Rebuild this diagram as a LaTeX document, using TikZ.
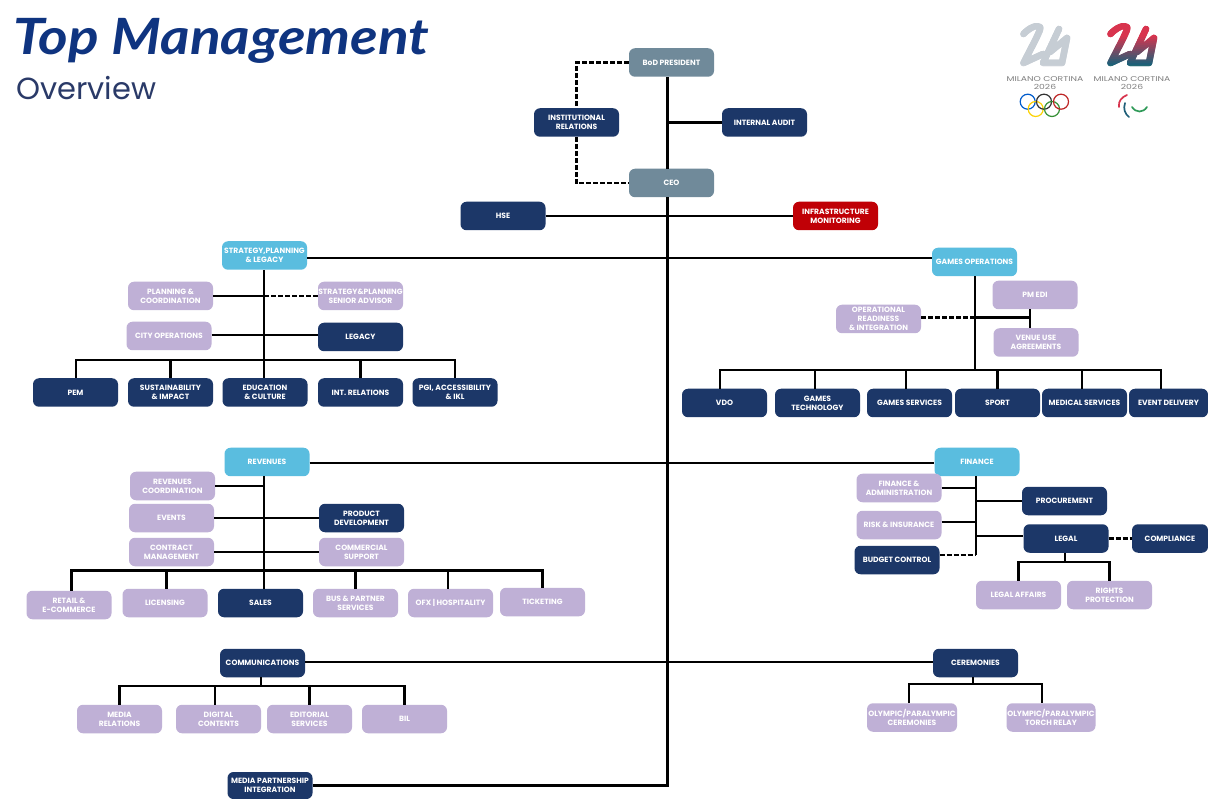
\documentclass[tikz,border=0pt]{standalone}
\usepackage{fontspec}
\setmainfont{Poppins}
\newfontfamily\titlefont{Lato}
\definecolor{navy}{HTML}{1C3768}
\definecolor{lilac}{HTML}{BFB0D6}
\definecolor{sky}{HTML}{5ABDDF}
\definecolor{slate}{HTML}{708A9A}
\definecolor{alert}{HTML}{C00006}
\definecolor{titleblue}{HTML}{0F3480}
\definecolor{subtitle}{HTML}{2A3A68}
\definecolor{logored}{HTML}{D8344E}
\definecolor{logoteal}{HTML}{1F5F78}
\definecolor{logogreen}{HTML}{2F9A58}
\definecolor{silvertop}{HTML}{C6CDD4}
\definecolor{silverlow}{HTML}{DDE1E5}
\newcommand{\logomark}[4]{%
  % #1 x origin, #2 top colour, #3 middle colour, #4 bottom colour
  \foreach \i in {0,...,28}{%
    \pgfmathsetmacro{\bandtop}{24+2*\i}
    \pgfmathsetmacro{\mixa}{min(100,max(0,(\i-6)*100/14))}
    \pgfmathsetmacro{\mixb}{max(0,(\i-20)*100/6)}
    \begin{scope}
      \clip (#1,\bandtop) rectangle (#1+60,\bandtop+2.2);
      \colorlet{bandc}{#3!\mixa!#2}
      \ifdim\mixb pt>0pt \colorlet{bandc}{#4!\mixb!#3}\fi
      \draw[bandc,line width=6.5pt,line join=round,line cap=round]
        (#1+3.5,34) .. controls (#1+9,28) and (#1+17,24) .. (#1+20,27)
        .. controls (#1+21,29) and (#1+19,33) .. (#1+3.5,63)
        -- (#1+23,54);
      \draw[bandc,line width=6.5pt,line join=round,line cap=round]
        (#1+39,29) -- (#1+23,63) -- (#1+42,63) -- (#1+47,38) -- (#1+30,52);
    \end{scope}
  }%
}
\tikzset{
  box/.style={rounded corners=6pt,minimum width=85pt,minimum height=28.5pt,inner sep=0pt,
    align=center,text=white,font=\fontsize{7.6}{9.2}\selectfont\bfseries},
  dark/.style={box,fill=navy},
  pale/.style={box,fill=lilac},
  lead/.style={box,fill=sky},
  grey/.style={box,fill=slate},
  warn/.style={box,fill=alert},
  conn/.style={line width=2.3pt,draw=black},
  heavy/.style={line width=2.8pt,draw=black},
  dash line/.style={line width=2.4pt,draw=black,dash pattern=on 5pt off 2pt},
  logotext/.style={font=\fontsize{7}{7.2}\selectfont,align=center,inner sep=0pt,xscale=1.32,transform shape},
}
\begin{document}
\begin{tikzpicture}[x=1pt,y=-1pt]
\path[use as bounding box,fill=white] (0,0) rectangle (1208,799);
\coordinate (tr) at (667.5,0);

% titles
\node[anchor=west,inner sep=0pt,text=titleblue,xscale=1.135,transform shape,font=\titlefont\fontsize{50}{50}\selectfont\bfseries\itshape] (title) at (13,41) {Top Management};
\node[anchor=west,inner sep=0pt,text=subtitle,font=\fontsize{30.5}{31}\selectfont] (sub) at (16,88) {Overview};

% top
\node[grey] (bod) at (671.5,62.5) {BoD PRESIDENT};
\node[dark] (inst) at (576.5,122.5) {INSTITUTIONAL\\RELATIONS};
\node[dark] (audit) at (764.5,122.5) {INTERNAL AUDIT};
\node[grey] (ceo) at (671.5,183) {CEO};
\node[dark] (hse) at (503,216) {HSE};
\node[warn] (infra) at (835.5,216) {INFRASTRUCTURE\\MONITORING};

% strategy
\node[lead] (strat) at (264.5,255.5) {STRATEGY,PLANNING\\\& LEGACY};
\node[pale] (plan) at (170.5,296) {PLANNING \&\\COORDINATION};
\node[pale] (city) at (169,336) {CITY OPERATIONS};
\node[pale] (senior) at (360.5,296) {STRATEGY\&PLANNING\\SENIOR ADVISOR};
\node[dark] (legacy) at (360.5,337) {LEGACY};
\node[dark] (pem) at (75.5,392.5) {PEM};
\node[dark] (sust) at (170.5,392.5) {SUSTAINABILITY\\\& IMPACT};
\node[dark] (edu) at (265,392.5) {EDUCATION\\\& CULTURE};
\node[dark] (intr) at (360.5,392.5) {INT. RELATIONS};
\node[dark] (pgi) at (455,392.5) {PGI, ACCESSIBILITY\\\& IKL};

% games
\node[lead] (games) at (974.5,262) {GAMES OPERATIONS};
\node[pale] (pmedi) at (1035,295) {PM EDI};
\node[pale] (opread) at (878.5,319) {OPERATIONAL\\READINESS\\\& INTEGRATION};
\node[pale] (venue) at (1036,342.5) {VENUE USE\\AGREEMENTS};
\node[dark] (vdo) at (724.5,403) {VDO};
\node[dark] (gtech) at (817.5,403) {GAMES\\TECHNOLOGY};
\node[dark] (gserv) at (909.5,403) {GAMES SERVICES};
\node[dark] (sport) at (997.5,403) {SPORT};
\node[dark] (med) at (1084.5,403) {MEDICAL SERVICES};
\node[dark,minimum width=79pt] (event) at (1168.5,403) {EVENT DELIVERY};

% revenues
\node[lead] (rev) at (267,462) {REVENUES};
\node[pale] (revco) at (172.5,486) {REVENUES\\COORDINATION};
\node[pale] (events) at (171.5,518) {EVENTS};
\node[pale] (contract) at (171.5,552) {CONTRACT\\MANAGEMENT};
\node[dark] (prod) at (361.5,518) {PRODUCT\\DEVELOPMENT};
\node[pale] (comm) at (361.5,552) {COMMERCIAL\\SUPPORT};
\node[pale] (retail) at (69,605) {RETAIL \&\\E-COMMERCE};
\node[pale] (lic) at (165,603) {LICENSING};
\node[dark] (sales) at (260.5,603) {SALES};
\node[pale] (bus) at (355.5,603) {BUS \& PARTNER\\SERVICES};
\node[pale] (ofx) at (450.5,603) {OFX | HOSPITALITY};
\node[pale] (tick) at (542.5,602) {TICKETING};

% finance
\node[lead] (fin) at (977,462) {FINANCE};
\node[pale] (fa) at (899,488) {FINANCE \&\\ADMINISTRATION};
\node[pale] (risk) at (899,525) {RISK \& INSURANCE};
\node[dark] (budget) at (897,560) {BUDGET CONTROL};
\node[dark] (proc) at (1064.5,501) {PROCUREMENT};
\node[dark] (legal) at (1066,538.5) {LEGAL};
\node[dark,minimum width=76pt] (comp) at (1170,538.5) {COMPLIANCE};
\node[pale] (laff) at (1018.5,595) {LEGAL AFFAIRS};
\node[pale] (rights) at (1109.5,595) {RIGHTS\\PROTECTION};

% communications
\node[dark] (cmn) at (262.5,663) {COMMUNICATIONS};
\node[pale] (media) at (119.5,719) {MEDIA\\RELATIONS};
\node[pale] (digital) at (218.5,719) {DIGITAL\\CONTENTS};
\node[pale] (edit) at (309.5,719) {EDITORIAL\\SERVICES};
\node[pale] (bil) at (404.5,719) {BIL};
\node[dark,minimum height=27pt] (mp) at (270,785.5) {MEDIA PARTNERSHIP\\INTEGRATION};

% ceremonies
\node[dark] (cer) at (975.5,663) {CEREMONIES};
\node[pale,minimum width=90pt] (ocer) at (912,717.5) {OLYMPIC/PARALYMPIC\\CEREMONIES};
\node[pale,minimum width=89pt] (torch) at (1051,717.5) {OLYMPIC/PARALYMPIC\\TORCH RELAY};

% helper coordinates
\coordinate (sbus) at (0,360);
\coordinate (gbus) at (0,370);
\coordinate (rbus) at (0,570.5);
\coordinate (cbus) at (0,686);
\coordinate (ebus) at (0,684);
\coordinate (lbus) at (0,562);
\coordinate (strx) at (264,0);
\coordinate (gx) at (975,0);
\coordinate (rx) at (264,0);
\coordinate (fx) at (976,0);

% top connectors
\draw[heavy] (bod.south -| tr) -- (ceo.north -| tr);
\draw[heavy] (ceo.south -| tr) -- (tr |- mp.east) -- (mp.east);
\draw[conn] (tr |- audit.west) -- (audit.west);
\draw[conn] (hse.east) -- (infra.west);
\draw[dash line] (bod.west) -| (inst.north);
\draw[dash line] (inst.south) |- (ceo.west);

% strategy connectors
\draw[conn] (strat.east |- 0,258) -- (games.west |- 0,258);
\draw[heavy] (strat.south -| strx) -- (edu.north -| strx);
\draw[heavy] (plan.east) -- (strx |- plan.east);
\draw[dash line] (strx |- senior.west) -- (senior.west);
\draw[conn] (city.east |- 0,335) -- (legacy.west |- 0,335);
\draw[heavy] (pem.north -| 76,0) |- (sbus -| pgi.north) -- (pgi.north);
\draw[conn] (sust.north) -- (sust.north |- sbus);
\draw[conn] (intr.north) -- (intr.north |- sbus);

% games connectors
\draw[heavy] (games.south -| gx) -- (gx |- gbus);
\draw[dash line] (opread.east |- 0,317.5) -- (gx |- 0,317.5);
\draw[conn] (gx |- 0,317.5) -- (1030,317.5);
\draw[conn] (pmedi.south -| 1030,0) -- (venue.north -| 1030,0);
\draw[heavy] (vdo.north -| 720,0) |- (gbus -| 1161,0) -- (event.north -| 1161,0);
\draw[conn] (gtech.north -| 815,0) -- (815,370);
\draw[conn] (gserv.north -| 906,0) -- (906,370);
\draw[conn] (sport.north) -- (sport.north |- gbus);
\draw[conn] (med.north -| 1082,0) -- (1082,370);

% revenue / finance connectors
\draw[heavy] (rev.east |- 0,463) -- (fin.west |- 0,463);
\draw[heavy] (rev.south -| rx) -- (sales.north -| rx);
\draw[conn] (revco.east) -- (rx |- revco.east);
\draw[conn] (events.east) -- (prod.west);
\draw[conn] (contract.east) -- (comm.west);
\draw[heavy] (retail.north -| 71.5,0) |- (rbus -| 542.5,0) -- (tick.north);
\draw[conn] (lic.north -| 166.5,0) -- (166.5,570.5);
\draw[conn] (bus.north) -- (bus.north |- rbus);
\draw[heavy] (ofx.north -| 448,0) -- (448,570.5);

\draw[heavy] (fin.south -| fx) -- (fx |- 0,555);
\draw[conn] (fa.east) -- (fx |- fa.east);
\draw[conn] (risk.east |- 0,522) -- (fx |- 0,522);
\draw[dash line] (budget.east |- 0,555) -- (fx |- 0,555);
\draw[conn] (fx |- proc.west) -- (proc.west);
\draw[heavy] (fx |- 0,536) -- (legal.west |- 0,536);
\draw[dash line] (legal.east) -- (comp.west);
\draw[heavy] (legal.south -| 1065,0) -- (1065,562);
\draw[heavy] (laff.north) |- (lbus -| rights.north) -- (rights.north);

% communications / ceremonies connectors
\draw[conn] (cmn.east |- 0,662) -- (cer.west |- 0,662);
\draw[heavy] (cmn.south -| 261,0) -- (261,686);
\draw[heavy] (media.north) |- (cbus -| bil.north) -- (bil.north);
\draw[conn] (digital.north -| 215,0) -- (215,686);
\draw[heavy] (edit.north) -- (edit.north |- cbus);
\draw[heavy] (cer.south -| 973,0) -- (973,684);
\draw[heavy] (ocer.north -| 909,0) |- (ebus -| 1042,0) -- (torch.north -| 1042,0);

% logos
\logomark{1020}{silvertop}{silvertop}{silverlow}
\logomark{1107}{logored}{logoteal}{logogreen}
\node[logotext,text=black!50] (mc1) at (1045,83) {MILANO CORTINA\\2026};
\node[logotext,text=black!50] (mc2) at (1132,83) {MILANO CORTINA\\2026};
\begin{scope}[line width=1.2pt]
  \draw[blue!55!cyan!80!black] (1027.7,101.7) circle (7.5);
  \draw[yellow!70!orange] (1035.7,109) circle (7.5);
  \draw[black!80] (1044,101.7) circle (7.5);
  \draw[green!45!black!80] (1052,109) circle (7.5);
  \draw[red!70!black!85] (1061,101.7) circle (7.5);
\end{scope}
\begin{scope}[line width=1.7pt,line cap=round]
  \draw[logored] (1119,107) .. controls (1118,101) and (1122,97) .. (1127,95);
  \draw[logoteal] (1125,103) .. controls (1123,109) and (1125,114) .. (1129,117);
  \draw[logogreen] (1132,107) .. controls (1136,113) and (1143,113) .. (1147,107);
\end{scope}
\end{tikzpicture}
\end{document}
